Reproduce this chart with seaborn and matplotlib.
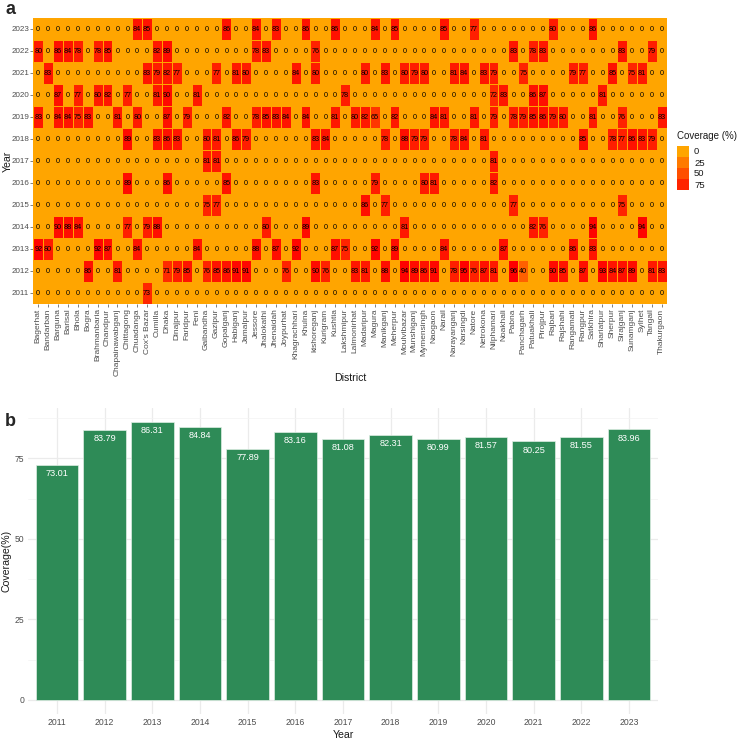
import numpy as np
import pandas as pd
import matplotlib
matplotlib.use("Agg")
import matplotlib.pyplot as plt
import seaborn as sns
from matplotlib.colors import LinearSegmentedColormap, Normalize
from matplotlib.patches import Rectangle

# districts (x axis of the heatmap)
districts = ["Bagerhat", "Bandarban", "Barguna", "Barisal", "Bhola", "Bogra", "Brahmanbaria",
             "Chandpur", "Chapainawabganj", "Chittagong", "Chuadanga", "Cox's Bazar", "Cumilla",
             "Dhaka", "Dinajpur", "Faridpur", "Feni", "Gaibandha", "Gazipur", "Gopalganj",
             "Habiganj", "Jamalpur", "Jessore", "Jhalokathi", "Jhenaidah", "Joypurhat",
             "Khagrachhari", "Khulna", "kishoreganj", "Kurigram", "Kushtia", "Lakshmipur",
             "Lalmonirhat", "Madaripur", "Magura", "Manikganj", "Meherpur", "Moulvibazar",
             "Munshiganj", "Mymensingh", "Naogaon", "Narail", "Narayanganj", "Narsingdi",
             "Natore", "Netrokona", "Nilphamari", "Noakhali", "Pabna", "Panchagarh",
             "Patuakhali", "Pirojpur", "Rajbari", "Rajshahi", "Rangamati", "Rangpur",
             "Satkhira", "Shariatpur", "Sherpur", "Sirajganj", "Sunamganj", "Sylhet",
             "Tangail", "Thakurgaon"]

years = [2011, 2012, 2013, 2014, 2015, 2016, 2017, 2018, 2019, 2020, 2021, 2022, 2023]

# district coverage (%) per year, one value per district
cov_2023 = [0, 0, 0, 0, 0, 0, 0, 0, 0, 0, 84, 85, 0, 0, 0, 0,
            0, 0, 0, 86, 0, 0, 84, 0, 83, 0, 0, 86, 0, 0, 86, 0,
            0, 0, 84, 0, 85, 0, 0, 0, 0, 85, 0, 0, 77, 0, 0, 0,
            0, 0, 0, 0, 80, 0, 0, 0, 86, 0, 0, 0, 0, 0, 0, 0]
cov_2022 = [80, 0, 86, 84, 78, 0, 78, 85, 0, 0, 0, 0, 82, 89, 0, 0,
            0, 0, 0, 0, 0, 0, 78, 83, 0, 0, 0, 0, 76, 0, 0, 0,
            0, 0, 0, 0, 0, 0, 0, 0, 0, 0, 0, 0, 0, 0, 0, 0,
            83, 0, 78, 83, 0, 0, 0, 0, 0, 0, 0, 83, 0, 0, 79, 0]
cov_2021 = [0, 83, 0, 0, 0, 0, 0, 0, 0, 0, 0, 83, 79, 82, 77, 0,
            0, 0, 77, 0, 81, 80, 0, 0, 0, 0, 84, 0, 80, 0, 0, 0,
            0, 80, 0, 83, 0, 80, 79, 80, 0, 0, 81, 84, 0, 83, 79, 0,
            0, 75, 0, 0, 0, 0, 79, 77, 0, 0, 85, 0, 75, 81, 0, 0]
cov_2020 = [0, 0, 87, 0, 77, 0, 80, 82, 0, 77, 0, 0, 81, 90, 0, 0,
            81, 0, 0, 0, 0, 0, 0, 0, 0, 0, 0, 0, 0, 0, 0, 78,
            0, 0, 0, 0, 0, 0, 0, 0, 0, 0, 0, 0, 0, 0, 72, 83,
            0, 0, 86, 87, 0, 0, 0, 0, 0, 81, 0, 0, 0, 0, 0, 0]
cov_2019 = [83, 0, 84, 84, 75, 83, 0, 0, 81, 0, 80, 0, 0, 87, 0, 79,
            0, 0, 0, 82, 0, 0, 78, 85, 83, 84, 0, 84, 0, 0, 81, 0,
            80, 82, 65, 0, 82, 0, 0, 0, 84, 81, 0, 0, 81, 0, 79, 0,
            78, 79, 85, 86, 79, 80, 0, 0, 81, 0, 0, 76, 0, 0, 0, 83]
cov_2018 = [0, 0, 0, 0, 0, 0, 0, 0, 0, 89, 0, 0, 83, 86, 83, 0,
            0, 80, 81, 0, 86, 79, 0, 0, 0, 0, 0, 0, 83, 84, 0, 0,
            0, 0, 0, 78, 0, 88, 79, 79, 0, 0, 78, 84, 0, 81, 0, 0,
            0, 0, 0, 0, 0, 0, 0, 85, 0, 0, 78, 77, 86, 83, 79, 0]
cov_2017 = [0, 0, 0, 0, 0, 0, 0, 0, 0, 0, 0, 0, 0, 0, 0, 0,
            0, 81, 81, 0, 0, 0, 0, 0, 0, 0, 0, 0, 0, 0, 0, 0,
            0, 0, 0, 0, 0, 0, 0, 0, 0, 0, 0, 0, 0, 0, 81, 0,
            0, 0, 0, 0, 0, 0, 0, 0, 0, 0, 0, 0, 0, 0, 0, 0]
cov_2016 = [0, 0, 0, 0, 0, 0, 0, 0, 0, 89, 0, 0, 0, 86, 0, 0,
            0, 0, 0, 85, 0, 0, 0, 0, 0, 0, 0, 0, 83, 0, 0, 0,
            0, 0, 79, 0, 0, 0, 0, 80, 81, 0, 0, 0, 0, 0, 82, 0,
            0, 0, 0, 0, 0, 0, 0, 0, 0, 0, 0, 0, 0, 0, 0, 0]
cov_2015 = [0, 0, 0, 0, 0, 0, 0, 0, 0, 0, 0, 0, 0, 0, 0, 0,
            0, 75, 77, 0, 0, 0, 0, 0, 0, 0, 0, 0, 0, 0, 0, 0,
            0, 86, 0, 77, 0, 0, 0, 0, 0, 0, 0, 0, 0, 0, 0, 0,
            77, 0, 0, 0, 0, 0, 0, 0, 0, 0, 0, 75, 0, 0, 0, 0]
cov_2014 = [0, 0, 90, 88, 84, 0, 0, 0, 0, 77, 0, 79, 88, 0, 0, 0,
            0, 0, 0, 0, 0, 0, 0, 80, 0, 0, 0, 89, 0, 0, 0, 0,
            0, 0, 0, 0, 0, 81, 0, 0, 0, 0, 0, 0, 0, 0, 0, 0,
            0, 0, 82, 76, 0, 0, 0, 0, 94, 0, 0, 0, 0, 94, 0, 0]
cov_2013 = [92, 80, 0, 0, 0, 0, 92, 87, 0, 0, 84, 0, 0, 0, 0, 0,
            84, 0, 0, 0, 0, 0, 88, 0, 87, 0, 92, 0, 0, 0, 87, 75,
            0, 0, 92, 0, 89, 0, 0, 0, 0, 84, 0, 0, 0, 0, 0, 87,
            0, 0, 0, 0, 0, 0, 86, 0, 83, 0, 0, 0, 0, 0, 0, 0]
cov_2012 = [0, 0, 0, 0, 0, 86, 0, 0, 81, 0, 0, 0, 0, 71, 79, 85,
            0, 76, 85, 86, 91, 91, 0, 0, 0, 76, 0, 0, 90, 76, 0, 0,
            83, 81, 0, 88, 0, 94, 89, 86, 91, 0, 78, 95, 76, 87, 81, 0,
            96, 40, 0, 0, 90, 85, 0, 87, 0, 93, 84, 87, 89, 0, 81, 83]
cov_2011 = [0, 0, 0, 0, 0, 0, 0, 0, 0, 0, 0, 73, 0, 0, 0, 0,
            0, 0, 0, 0, 0, 0, 0, 0, 0, 0, 0, 0, 0, 0, 0, 0,
            0, 0, 0, 0, 0, 0, 0, 0, 0, 0, 0, 0, 0, 0, 0, 0,
            0, 0, 0, 0, 0, 0, 0, 0, 0, 0, 0, 0, 0, 0, 0, 0]

# national coverage per year (panel b)
national_cov = [73.01, 83.79, 86.31, 84.84, 77.89, 83.16, 81.08,
                82.31, 80.99, 81.57, 80.25, 81.55, 83.96]

legend_breaks = [0, 25, 50, 75]

sns.set_theme(style="whitegrid")
plt.rcParams['font.family'] = ['Liberation Sans', 'DejaVu Sans']

grey_txt = "#4D4D4D"

heat = pd.DataFrame([cov_2023, cov_2022, cov_2021, cov_2020, cov_2019, cov_2018, cov_2017,
                     cov_2016, cov_2015, cov_2014, cov_2013, cov_2012, cov_2011],
                    index=years[::-1], columns=districts)

cmap = LinearSegmentedColormap.from_list("cov", ["#FFA500", "#FF0000"])
vmax = heat.values.max()
norm = Normalize(0, vmax)

W, H = 740, 738
fig = plt.figure(figsize=(W / 100, H / 100), dpi=100)

# ---- panel a: heatmap
ax1 = fig.add_axes([33.3 / W, 1 - 304.3 / H, 633.4 / W, 286 / H])
sns.heatmap(heat, ax=ax1, cmap=cmap, vmin=0, vmax=vmax, annot=True, fmt="d",
            annot_kws={"size": 5.2, "color": "black"},
            linewidths=0.6, linecolor="#FFA500", cbar=False)
ax1.set_xticks(np.arange(len(districts)) + 0.5)
ax1.set_xticklabels(districts, rotation=90, fontsize=6, color=grey_txt)
ax1.set_yticks(np.arange(len(years)) + 0.5)
ax1.set_yticklabels(years[::-1], rotation=0, fontsize=5.8, color=grey_txt)
ax1.tick_params(bottom=True, left=True, length=2, width=0.5, color=grey_txt, pad=1)
ax1.set_xlabel("District", fontsize=7.6, color="#1a1a1a")
ax1.set_ylabel("Year", fontsize=7.6, color="#1a1a1a")
ax1.xaxis.set_label_coords(0.5, (304.3 - 373) / 286)
ax1.yaxis.set_label_coords((13 - 33.3) / 633.4, 0.5)

# legend for the fill scale, drawn as keys in figure pixels
fig.text(677 / W, 1 - 136 / H, "Coverage (%)", fontsize=7, color="#1a1a1a",
         ha="left", va="center")
for i, v in enumerate(legend_breaks):
    top = 146 + 11 * i
    fig.patches.append(Rectangle((677 / W, 1 - (top + 11) / H), 12 / W, 11 / H,
                                 transform=fig.transFigure, facecolor=cmap(norm(v)),
                                 edgecolor="none"))
    fig.text(694 / W, 1 - (top + 6) / H, str(v), fontsize=6.8, color="#1a1a1a",
             ha="left", va="center")

# ---- panel b: national coverage bars
ax2 = fig.add_axes([28.4 / W, 1 - 713.9 / H, 629.2 / W, 306 / H])
bar_df = pd.DataFrame({"Year": years, "Coverage": national_cov})
sns.barplot(data=bar_df, x="Year", y="Coverage", color="#2E8B57", saturation=1,
            width=0.9, edgecolor="#dfeee4", linewidth=0.5, ax=ax2, zorder=2)
for i, v in enumerate(national_cov):
    ax2.annotate(f"{v:.2f}", (i, v), xytext=(0, -3), textcoords="offset points",
                 ha="center", va="top", color="white", fontsize=6.6)
ax2.set_xlim(-0.6, len(years) - 0.4)
ax2.set_ylim(-4.32, 90.63)
ax2.set_yticks([0, 25, 50, 75])
ax2.set_yticks([12.5, 37.5, 62.5, 87.5], minor=True)
ax2.set_facecolor("white")
for s in ax2.spines.values():
    s.set_visible(False)
ax2.grid(which="major", color="#EBEBEB", linewidth=0.9)
ax2.grid(which="minor", axis="y", color="#F3F3F3", linewidth=0.5)
ax2.set_axisbelow(True)
ax2.tick_params(axis="both", which="both", length=0, labelsize=6.2, labelcolor=grey_txt, pad=3)
ax2.set_xlabel("Year", fontsize=7.6, color="#1a1a1a", labelpad=2)
ax2.set_ylabel("Coverage(%)", fontsize=7.6, color="#1a1a1a")
ax2.yaxis.set_label_coords((12 - 28.4) / 629.2, 0.5)

fig.text(5 / W, 1 - 9 / H, "a", fontsize=13, fontweight="bold", va="center", ha="left")
fig.text(5 / W, 1 - 422 / H, "b", fontsize=13, fontweight="bold", va="center", ha="left")

fig.savefig("out.png", dpi=100)
